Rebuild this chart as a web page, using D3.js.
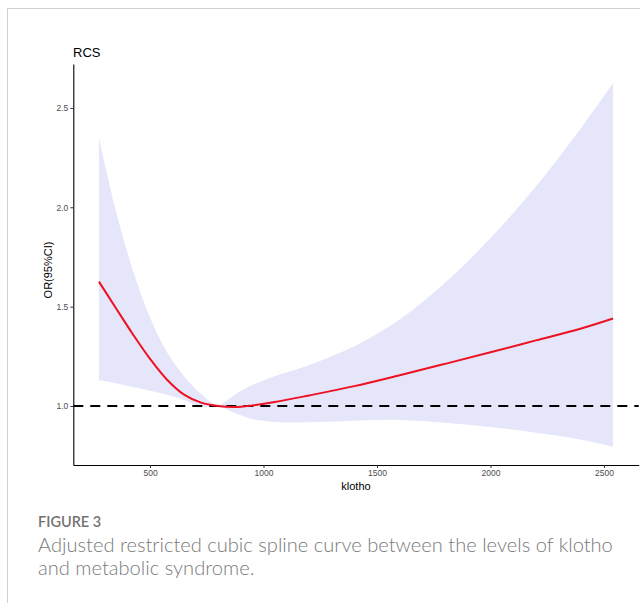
<!DOCTYPE html>
<html>
<head>
<meta charset="utf-8">
<script src="https://cdn.jsdelivr.net/npm/d3@7"></script>
<style>
  body { margin: 0; background: #fff; }
  svg { display: block; }
</style>
</head>
<body>
<div id="chart"></div>
<script>
const klotho = [275, 350, 425, 500, 575, 650, 725, 800, 875, 950, 1050, 1200, 1400, 1600, 1800, 2000, 2200, 2400, 2540];
// odds ratio and its 95% CI
const orValue = [1.626, 1.492, 1.36, 1.237, 1.132, 1.057, 1.017, 1.0, 0.995, 1.003, 1.02, 1.053, 1.10, 1.155, 1.212, 1.27, 1.33, 1.39, 1.44];
const orUpper = [2.348, 1.98, 1.68, 1.445, 1.27, 1.15, 1.06, 1.005, 1.058, 1.105, 1.15, 1.205, 1.30, 1.435, 1.62, 1.845, 2.105, 2.40, 2.625];
const orLower = [1.131, 1.115, 1.095, 1.077, 1.057, 1.03, 0.997, 0.999, 0.963, 0.935, 0.92, 0.918, 0.926, 0.93, 0.916, 0.894, 0.865, 0.83, 0.795];
const xTicks = [500, 1000, 1500, 2000, 2500];
const yTicks = [1.0, 1.5, 2.0, 2.5];
const refOR = 1;

const width = 640,
  height = 603;

const svg = d3
  .select("#chart")
  .append("svg")
  .attr("width", width)
  .attr("height", height);

// page frame (top and left rules)
svg.append("line")
  .attr("x1", 7.5).attr("x2", width)
  .attr("y1", 8.5).attr("y2", 8.5)
  .attr("stroke", "#d0d0d0");
svg.append("line")
  .attr("x1", 7.5).attr("x2", 7.5)
  .attr("y1", 8.5).attr("y2", height)
  .attr("stroke", "#d0d0d0");

const x = d3.scaleLinear().domain([162, 2653]).range([73.3, 638.7]);
const y = d3.scaleLinear().domain([0.703, 2.721]).range([465, 64]);

const rows = klotho.map((k, i) => ({ k, or: orValue[i], lo: orLower[i], hi: orUpper[i] }));

// confidence band
const area = d3
  .area()
  .x((d) => x(d.k))
  .y0((d) => y(d.lo))
  .y1((d) => y(d.hi))
  .curve(d3.curveCatmullRom.alpha(0.5));

svg.append("path")
  .datum(rows)
  .attr("d", area)
  .attr("fill", "#e6e6fa");

// reference line at OR = 1
svg.append("line")
  .attr("x1", x.range()[0]).attr("x2", x.range()[1])
  .attr("y1", y(refOR)).attr("y2", y(refOR))
  .attr("stroke", "#000")
  .attr("stroke-width", 2)
  .attr("stroke-dasharray", "10,7");

const line = d3
  .line()
  .x((d) => x(d.k))
  .y((d) => y(d.or))
  .curve(d3.curveCatmullRom.alpha(0.5));

svg.append("path")
  .datum(rows)
  .attr("d", line)
  .attr("fill", "none")
  .attr("stroke", "#ee1122")
  .attr("stroke-width", 2);

// axes
const xAxis = svg.append("g")
  .attr("transform", `translate(0, ${y.range()[0]})`)
  .call(d3.axisBottom(x).tickValues(xTicks).tickSize(3).tickSizeOuter(0).tickPadding(2).tickFormat(d3.format("d")));

const yAxis = svg.append("g")
  .attr("transform", `translate(${x.range()[0]}, 0)`)
  .call(d3.axisLeft(y).tickValues(yTicks).tickSize(3).tickSizeOuter(0).tickPadding(2).tickFormat(d3.format(".1f")));

[xAxis, yAxis].forEach((g) => {
  g.select(".domain").attr("stroke", "#000").attr("stroke-width", 1.1);
  g.selectAll(".tick line").attr("stroke", "#333");
  g.selectAll(".tick text")
    .attr("fill", "#4d4d4d")
    .style("font-family", "Liberation Sans, Arial, sans-serif")
    .style("font-size", "8.5px");
});

svg.append("text")
  .attr("x", 356)
  .attr("y", 490)
  .attr("text-anchor", "middle")
  .style("font-family", "Liberation Sans, Arial, sans-serif")
  .style("font-size", "11px")
  .text("klotho");

svg.append("text")
  .attr("transform", `translate(52, 270) rotate(-90)`)
  .attr("text-anchor", "middle")
  .style("font-family", "Liberation Sans, Arial, sans-serif")
  .style("font-size", "11px")
  .text("OR(95%CI)");

svg.append("text")
  .attr("x", 73)
  .attr("y", 57)
  .style("font-family", "Liberation Sans, Arial, sans-serif")
  .style("font-size", "13px")
  .text("RCS");

// figure caption
svg.append("text")
  .attr("x", 38)
  .attr("y", 527)
  .attr("fill", "#737373")
  .style("font-family", "Lato, Open Sans, sans-serif")
  .style("font-size", "14.5px")
  .style("font-weight", 600)
  .text("FIGURE 3");

const capLines = [
  "Adjusted restricted cubic spline curve between the levels of klotho",
  "and metabolic syndrome.",
];
const caps = svg.selectAll(".cap")
  .data(capLines)
  .enter()
  .append("text")
  .attr("class", "cap")
  .attr("x", 38)
  .attr("y", (d, i) => 551.5 + i * 23.5)
  .attr("fill", "#7a7a7a")
  .style("font-family", "Lato, Open Sans, sans-serif")
  .style("font-size", "18px")
  .style("font-weight", 300)
  .text((d) => d);

// fit the first caption line to the printed width
const w0 = caps.node().getComputedTextLength();
caps.style("font-size", (18 * 575 / w0).toFixed(2) + "px");
</script>
</body>
</html>
